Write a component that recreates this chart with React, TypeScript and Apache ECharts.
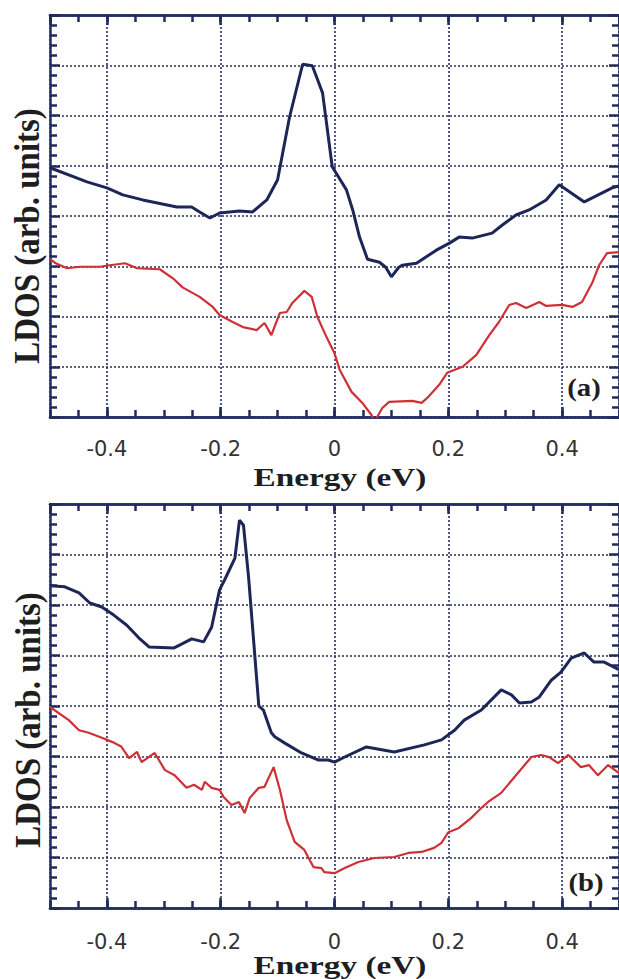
import React, { useEffect, useRef } from "react";
import * as echarts from "echarts";

// ---------- data (Energy in eV, LDOS in arbitrary units) ----------
const xTickLabels = ["-0.4", "-0.2", "0", "0.2", "0.4"];

const panelABlue: number[][] = [
  [-0.5, 4.96], [-0.435, 4.68], [-0.4, 4.56], [-0.372, 4.42], [-0.337, 4.32], [-0.277, 4.18],
  [-0.251, 4.18], [-0.237, 4.08], [-0.219, 3.96], [-0.202, 4.06], [-0.167, 4.1], [-0.144, 4.08],
  [-0.119, 4.32], [-0.1, 4.72], [-0.079, 5.97], [-0.056, 7.02], [-0.039, 6.99], [-0.021, 6.45],
  [-0.004, 4.98], [0.021, 4.52], [0.032, 4.12], [0.044, 3.58], [0.058, 3.14], [0.079, 3.08],
  [0.09, 2.98], [0.1, 2.79], [0.113, 2.98], [0.119, 3.02], [0.144, 3.06], [0.179, 3.32],
  [0.202, 3.46], [0.219, 3.58], [0.242, 3.56], [0.277, 3.66], [0.295, 3.82], [0.319, 4.02],
  [0.342, 4.12], [0.372, 4.32], [0.395, 4.62], [0.439, 4.28], [0.488, 4.56], [0.5, 4.6]
];

const panelARed: number[][] = [
  [-0.5, 3.14], [-0.49, 3.06], [-0.47, 2.96], [-0.447, 2.99], [-0.412, 2.99], [-0.395, 3.02],
  [-0.368, 3.06], [-0.347, 2.96], [-0.307, 2.94], [-0.284, 2.76], [-0.267, 2.58], [-0.237, 2.39],
  [-0.214, 2.19], [-0.202, 2.03], [-0.179, 1.89], [-0.161, 1.79], [-0.137, 1.73], [-0.123, 1.87],
  [-0.111, 1.63], [-0.096, 2.07], [-0.084, 2.09], [-0.074, 2.27], [-0.053, 2.51], [-0.04, 2.39],
  [-0.03, 1.99], [-0.014, 1.59], [0, 1.27], [0.009, 0.94], [0.03, 0.5], [0.049, 0.28],
  [0.065, 0.04], [0.07, -0.1], [0.075, 0.0], [0.084, 0.18], [0.096, 0.3], [0.137, 0.32],
  [0.153, 0.28], [0.163, 0.38], [0.184, 0.64], [0.198, 0.88], [0.225, 1.0], [0.249, 1.23],
  [0.272, 1.63], [0.289, 1.89], [0.307, 2.23], [0.319, 2.27], [0.337, 2.17], [0.36, 2.29],
  [0.372, 2.21], [0.4, 2.23], [0.418, 2.19], [0.435, 2.29], [0.453, 2.67], [0.465, 3.02],
  [0.479, 3.26], [0.5, 3.28]
];

const panelBBlue: number[][] = [
  [-0.5, 6.38], [-0.474, 6.36], [-0.449, 6.24], [-0.43, 6.04], [-0.409, 5.96], [-0.388, 5.8],
  [-0.365, 5.6], [-0.344, 5.35], [-0.326, 5.17], [-0.282, 5.15], [-0.268, 5.23], [-0.251, 5.33],
  [-0.23, 5.27], [-0.216, 5.56], [-0.202, 6.3], [-0.193, 6.5], [-0.175, 6.93], [-0.167, 7.68],
  [-0.16, 7.58], [-0.151, 6.55], [-0.133, 4.0], [-0.125, 3.92], [-0.111, 3.47], [-0.105, 3.39],
  [-0.088, 3.27], [-0.058, 3.07], [-0.028, 2.93], [-0.011, 2.93], [0, 2.89], [0.018, 2.99],
  [0.056, 3.19], [0.105, 3.09], [0.158, 3.23], [0.188, 3.33], [0.211, 3.52], [0.228, 3.72],
  [0.258, 3.92], [0.293, 4.32], [0.311, 4.22], [0.325, 4.06], [0.346, 4.08], [0.36, 4.18],
  [0.381, 4.51], [0.398, 4.67], [0.416, 4.95], [0.439, 5.05], [0.456, 4.87], [0.474, 4.87],
  [0.5, 4.72]
];

const panelBRed: number[][] = [
  [-0.5, 3.98], [-0.467, 3.72], [-0.449, 3.52], [-0.432, 3.47], [-0.409, 3.37], [-0.391, 3.29],
  [-0.375, 3.2], [-0.361, 2.97], [-0.347, 3.09], [-0.339, 2.89], [-0.316, 3.07], [-0.298, 2.73],
  [-0.281, 2.63], [-0.26, 2.38], [-0.247, 2.44], [-0.233, 2.34], [-0.228, 2.5], [-0.216, 2.38],
  [-0.202, 2.34], [-0.195, 2.2], [-0.181, 2.04], [-0.168, 2.1], [-0.158, 1.88], [-0.149, 2.18],
  [-0.133, 2.38], [-0.123, 2.4], [-0.107, 2.79], [-0.096, 2.34], [-0.084, 1.74], [-0.07, 1.31],
  [-0.053, 1.15], [-0.037, 0.81], [-0.023, 0.79], [-0.018, 0.71], [0, 0.69], [0.018, 0.79],
  [0.042, 0.91], [0.07, 0.99], [0.105, 1.01], [0.13, 1.09], [0.153, 1.11], [0.175, 1.19],
  [0.188, 1.29], [0.2, 1.5], [0.218, 1.58], [0.24, 1.78], [0.258, 1.98], [0.27, 2.1],
  [0.293, 2.28], [0.316, 2.59], [0.346, 2.99], [0.363, 3.03], [0.377, 2.99], [0.393, 2.87],
  [0.411, 3.03], [0.433, 2.79], [0.447, 2.83], [0.463, 2.63], [0.481, 2.83], [0.5, 2.67]
];

// ---------- styling ----------
const AXIS = "#262f63";
const BLUE = "#1d2657";
const RED = "#cf3035";
const TEXT = "#1e1e1e";
const SERIF = "Liberation Serif";

// fresh objects every time (never share option objects between components)
const axisLineStyle = () => ({ color: AXIS, width: 2.5, type: "solid" });
const tickStyle = () => ({ color: "#222a5c", width: 2.5, type: "solid", opacity: 1 });
const gridLine = () => ({ type: [2, 2], color: AXIS, width: 1.6 });

function xAxesFor(gridIndex: number, labelMargin: number) {
  const major = (position: string, withLabels: boolean) => ({
    type: "value",
    gridIndex,
    min: -0.5,
    max: 0.5,
    position,
    splitNumber: 5,
    axisLine: { show: true, onZero: false, lineStyle: axisLineStyle() },
    axisTick: { show: true, inside: true, length: 10, lineStyle: tickStyle() },
    axisLabel: withLabels
      ? {
          show: true,
          showMinLabel: false,
          showMaxLabel: false,
          margin: labelMargin,
          fontSize: 21,
          fontFamily: "DejaVu Sans",
          color: "#333",
          formatter: (v: number) => {
            const s = xTickLabels.find((t) => Math.abs(parseFloat(t) - v) < 1e-6);
            return s ?? "";
          }
        }
      : { show: false },
    splitLine: withLabels ? { show: true, lineStyle: gridLine() } : { show: false }
  });
  const minor = (position: string) => ({
    type: "value",
    gridIndex,
    min: -0.5,
    max: 0.5,
    position,
    interval: 0.05,
    axisLine: { show: true, onZero: false, lineStyle: axisLineStyle() },
    axisTick: { show: true, inside: true, length: 7, lineStyle: tickStyle() },
    axisLabel: { show: false },
    splitLine: { show: false }
  });
  return [major("bottom", true), minor("bottom"), major("top", false), minor("top")];
}

function yAxesFor(gridIndex: number) {
  const axis = (position: string, withSplit: boolean) => ({
    type: "value",
    gridIndex,
    min: 0,
    max: 8,
    interval: 1,
    position,
    axisLabel: { show: false },
    axisLine: { show: true, onZero: false, lineStyle: axisLineStyle() },
    axisTick: { show: true, inside: true, length: 10, lineStyle: tickStyle() },
    minorTick: { show: true, splitNumber: 5, length: 7, lineStyle: tickStyle() },
    splitLine: withSplit ? { show: true, lineStyle: gridLine() } : { show: false }
  });
  return [axis("left", true), axis("right", false)];
}

function lineSeries(data: number[][], color: string, xAxisIndex: number, yAxisIndex: number, width: number) {
  return {
    type: "line",
    xAxisIndex,
    yAxisIndex,
    data,
    showSymbol: false,
    symbol: "none",
    lineStyle: { color, width },
    z: 5
  };
}

function titleText(text: string, x: number, y: number, size: number, opts: any = {}) {
  return {
    type: "text",
    x,
    y,
    z: 10,
    ...opts,
    style: {
      text,
      fontFamily: SERIF,
      fontWeight: "bold",
      fontSize: size,
      fill: TEXT,
      align: "center",
      verticalAlign: "middle",
      textAlign: "center",
      textVerticalAlign: "middle"
    }
  };
}

export default function App() {
  const ref = useRef<HTMLDivElement>(null);

  useEffect(() => {
    if (!ref.current) return;
    const chart = echarts.init(ref.current, undefined, { renderer: "svg" });
    const option: any = {
      animation: false,
      backgroundColor: "#ffffff",
      grid: [
        { left: 50, top: 15, width: 569, height: 402 },
        { left: 50, top: 504, width: 569, height: 404 }
      ],
      xAxis: [...xAxesFor(0, 21), ...xAxesFor(1, 23)],
      yAxis: [...yAxesFor(0), ...yAxesFor(1)],
      series: [
        lineSeries(panelABlue, BLUE, 0, 0, 3),
        lineSeries(panelARed, RED, 0, 0, 2.2),
        lineSeries(panelBBlue, BLUE, 4, 2, 3),
        lineSeries(panelBRed, RED, 4, 2, 2.2)
      ],
      graphic: [
        titleText("Energy (eV)", 340, 477, 26, { scaleX: 1.28 }),
        titleText("Energy (eV)", 340, 965, 26, { scaleX: 1.28 }),
        titleText("LDOS (arb. units)", 26, 236, 30, { rotation: Math.PI / 2, scaleX: 1.1, scaleY: 1.2 }),
        titleText("LDOS (arb. units)", 27, 720, 30, { rotation: Math.PI / 2, scaleX: 1.1, scaleY: 1.2 }),
        titleText("(a)", 584, 388, 25, { scaleX: 1.15 }),
        titleText("(b)", 586, 883, 25, { scaleX: 1.15 })
      ]
    };
    chart.setOption(option);
    return () => chart.dispose();
  }, []);

  return (
    <div
      ref={ref}
      style={{ position: "absolute", left: 0, top: 0, width: 619, height: 979, background: "#fff" }}
    />
  );
}
